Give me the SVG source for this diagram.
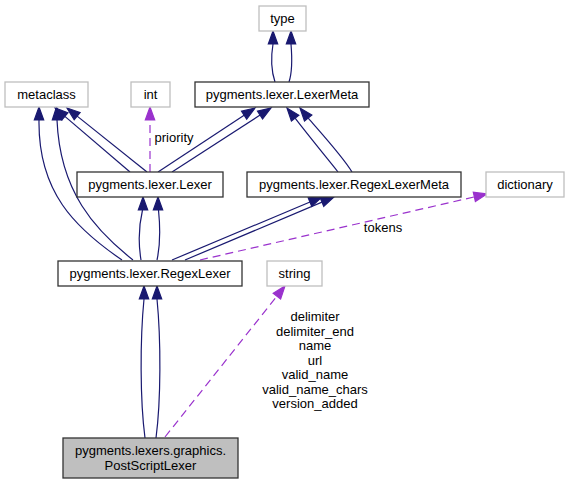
<svg xmlns="http://www.w3.org/2000/svg" width="570" height="484" viewBox="0 0 570 484">
<style>
text{font-family:"Liberation Sans",Arial,Helvetica,sans-serif;font-size:13px;fill:#000;text-anchor:middle}
.doc{fill:#fff;stroke:#333;stroke-width:1.3}
.und{fill:#fff;stroke:#bfbfbf;stroke-width:1.3}
.main{fill:#bfbfbf;stroke:#333;stroke-width:1.3}
.inh{fill:none;stroke:#191970;stroke-width:1.2}
.inha{fill:#191970;stroke:#191970;stroke-width:1.2}
.use{fill:none;stroke:#9a32cd;stroke-width:1.2;stroke-dasharray:8,5}
.usea{fill:#9a32cd;stroke:#9a32cd;stroke-width:1.2}
</style>
<rect width="570" height="484" fill="#fff"/>
<g id="connectors">
<!-- type <- LexerMeta -->
<path class="inh" d="M275,82 C271,70 271,56 273,44"/>
<polygon class="inha" points="268.3,44 273,31 277.7,44"/>
<path class="inh" d="M289,82 C293,70 292,56 291,44"/>
<polygon class="inha" points="286.3,44 291,31 295.7,44"/>
<!-- metaclass <- RegexLexer -->
<path class="inh" d="M122,260 C75,228 38,192 39,120"/>
<polygon class="inha" points="34.3,120 39,107 43.7,120"/>
<path class="inh" d="M133,260 C95,230 60,192 57,120"/>
<polygon class="inha" points="52.3,120 56.5,107 61.7,120"/>
<!-- metaclass <- Lexer -->
<path class="inh" d="M130,172 L64.9,116.4"/>
<polygon class="inha" points="67.95,112.8 55,108 61.85,120"/>
<path class="inh" d="M147,172 L77.15,116.1"/>
<polygon class="inha" points="80.1,112.5 67,108 74.2,119.8"/>
<!-- LexerMeta <- Lexer -->
<path class="inh" d="M158,172 L244.1,115.2"/>
<polygon class="inha" points="246.7,119.1 255,108 241.5,111.2"/>
<path class="inh" d="M172,172 L260.1,115.1"/>
<polygon class="inha" points="262.6,119 271,108 257.5,111.1"/>
<!-- LexerMeta <- RegexLexerMeta -->
<path class="inh" d="M338,172 C326,157 308,135 295.1,118.2"/>
<polygon class="inha" points="298.8,115.2 287,108 291.4,121.1"/>
<path class="inh" d="M352,172 C343,157 322,134 308.2,118.1"/>
<polygon class="inha" points="311.8,115.1 300,108 304.5,121.1"/>
<!-- int <- Lexer (priority) -->
<path class="use" d="M150,172 L150,120"/>
<polygon class="usea" points="145.3,120 150,107 154.7,120"/>
<!-- Lexer <- RegexLexer -->
<path class="inh" d="M141,260 C138,242 139,225 142.5,210"/>
<polygon class="inha" points="138.3,210 143,197 147.7,210"/>
<path class="inh" d="M157,260 C161,242 160,225 158.5,210"/>
<polygon class="inha" points="153.3,210 158,197 162.7,210"/>
<!-- RegexLexerMeta <- RegexLexer -->
<path class="inh" d="M172,260 L310,202"/>
<polygon class="inha" points="311.8,206.4 322,197 308.2,197.7"/>
<path class="inh" d="M185,260 L322,202.1"/>
<polygon class="inha" points="323.8,206.4 334,197 320.2,197.8"/>
<!-- dictionary <- RegexLexer (tokens) -->
<path class="use" d="M200,260 L474.3,196.9"/>
<polygon class="usea" points="475.4,201.5 487,194 473.3,192.3"/>
<!-- RegexLexer <- PostScriptLexer -->
<path class="inh" d="M145,438 C140,400 140,340 144,299"/>
<polygon class="inha" points="139.3,299 144,286 148.7,299"/>
<path class="inh" d="M156,438 C161,400 161,340 157,299"/>
<polygon class="inha" points="152.3,299 157,286 161.7,299"/>
<!-- string <- PostScriptLexer -->
<path class="use" d="M165,437 L276.9,296.2"/>
<polygon class="usea" points="280.6,299.1 285,286 273.2,293.3"/>
<!-- labels -->
<text x="174" y="142">priority</text>
<text x="383" y="232">tokens</text>
<text x="315" y="321">delimiter</text>
<text x="315" y="335.5">delimiter_end</text>
<text x="315" y="350">name</text>
<text x="315" y="364.5">url</text>
<text x="315" y="379">valid_name</text>
<text x="315" y="393.5">valid_name_chars</text>
<text x="315" y="408">version_added</text>
</g>
<g id="type"><rect class="und" x="259" y="6" width="47" height="25"/><text x="282.5" y="23">type</text></g>
<g id="metaclass"><rect class="und" x="5" y="82" width="83" height="25"/><text x="46.5" y="99">metaclass</text></g>
<g id="int"><rect class="und" x="131" y="82" width="39" height="25"/><text x="150.5" y="99">int</text></g>
<g id="LexerMeta"><rect class="doc" x="195" y="82" width="174" height="25"/><text x="282" y="99">pygments.lexer.LexerMeta</text></g>
<g id="Lexer"><rect class="doc" x="77" y="172" width="146" height="25"/><text x="150" y="189">pygments.lexer.Lexer</text></g>
<g id="RegexLexerMeta"><rect class="doc" x="247" y="172" width="214" height="25"/><text x="354" y="189">pygments.lexer.RegexLexerMeta</text></g>
<g id="dictionary"><rect class="und" x="486" y="172" width="78" height="25"/><text x="525" y="189">dictionary</text></g>
<g id="RegexLexer"><rect class="doc" x="58" y="261" width="184" height="25"/><text x="150" y="278">pygments.lexer.RegexLexer</text></g>
<g id="string"><rect class="und" x="267" y="261" width="55" height="25"/><text x="294.5" y="278">string</text></g>
<g id="PostScriptLexer"><rect class="main" x="63" y="438" width="175" height="40"/><text x="150.5" y="455">pygments.lexers.graphics.</text><text x="150.5" y="470">PostScriptLexer</text></g>
</svg>
